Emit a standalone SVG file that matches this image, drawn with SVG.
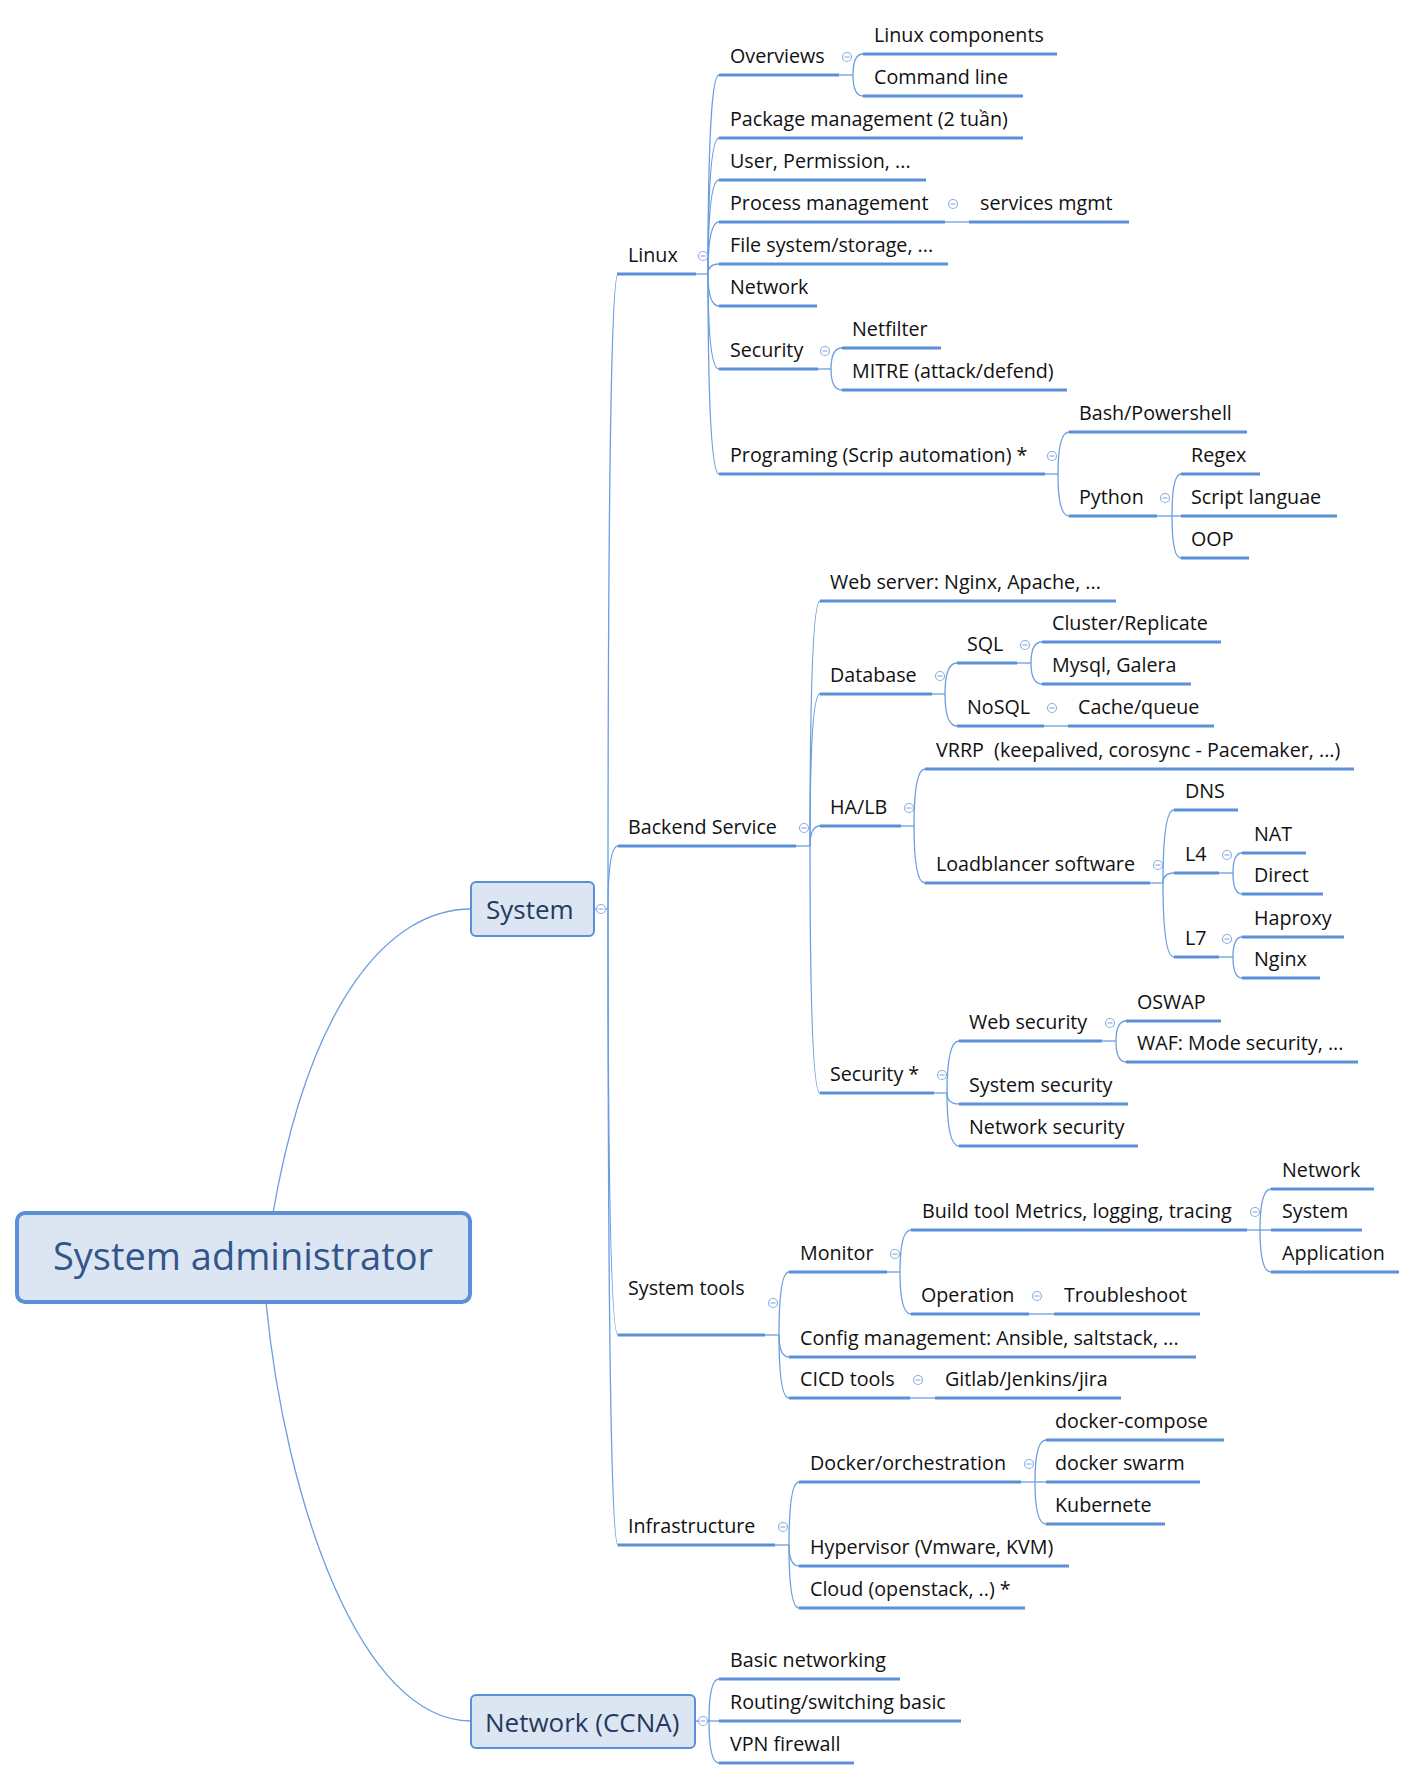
<svg xmlns="http://www.w3.org/2000/svg" width="1417" height="1780" viewBox="0 0 1417 1780">
<style>
.c{fill:none;stroke:#6b9de0;stroke-width:1.3}
.u{fill:none;stroke:#5b8fd7;stroke-width:3.2}
.t{font-family:"Open Sans","Noto Sans","DejaVu Sans",sans-serif;font-size:19.7px;fill:#111}
.box{fill:#dce6f2;stroke:#5b8fd7}
.bt{font-family:"Open Sans","Noto Sans","DejaVu Sans",sans-serif;fill:#253a5e}
.cl circle{fill:#fff;stroke:#8fb1e3;stroke-width:1.2}
.cl path{stroke:#8fb1e3;stroke-width:1.2}
</style>
<defs>
<g id="cl" class="cl"><circle r="4.5"/><path d="M-2.5 0H2.5"/></g>
</defs>
<rect width="1417" height="1780" fill="#fff"/>
<g id="connectors">
<path class="c" d="M471 909C390 909 310 1000 273 1213"/>
<path class="c" d="M266 1302C285 1500 360 1721 471 1721"/>
<path class="c" d="M594 909H608"/>
<path class="c" d="M608 909Q608 274 618 274"/>
<path class="c" d="M608 909Q608 846 618 846"/>
<path class="c" d="M608 909Q608 1335 618 1335"/>
<path class="c" d="M608 909Q608 1545 618 1545"/>
<path class="c" d="M696 274H708"/>
<path class="c" d="M708 274Q708 75 719 75"/>
<path class="c" d="M708 274Q708 138 719 138"/>
<path class="c" d="M708 274Q708 180 719 180"/>
<path class="c" d="M708 274Q708 222 719 222"/>
<path class="c" d="M708 274Q708 264 719 264"/>
<path class="c" d="M708 274Q708 306 719 306"/>
<path class="c" d="M708 274Q708 369 719 369"/>
<path class="c" d="M708 274Q708 474 719 474"/>
<path class="c" d="M839 75H853"/>
<path class="c" d="M853 75Q853 54 863 54"/>
<path class="c" d="M853 75Q853 96 863 96"/>
<path class="c" d="M945 222H969"/>
<path class="c" d="M818 369H831"/>
<path class="c" d="M831 369Q831 348 842 348"/>
<path class="c" d="M831 369Q831 390 842 390"/>
<path class="c" d="M1045 474H1058"/>
<path class="c" d="M1058 474Q1058 432 1069 432"/>
<path class="c" d="M1058 474Q1058 516 1069 516"/>
<path class="c" d="M1157 516H1172"/>
<path class="c" d="M1172 516Q1172 474 1181 474"/>
<path class="c" d="M1172 516H1181"/>
<path class="c" d="M1172 516Q1172 558 1181 558"/>
<path class="c" d="M796 846H810"/>
<path class="c" d="M810 846Q810 601 820 601"/>
<path class="c" d="M810 846Q810 694 820 694"/>
<path class="c" d="M810 846Q810 826 820 826"/>
<path class="c" d="M810 846Q810 1093 820 1093"/>
<path class="c" d="M932 694H945"/>
<path class="c" d="M945 694Q945 663 957 663"/>
<path class="c" d="M945 694Q945 726 957 726"/>
<path class="c" d="M1017 663H1031"/>
<path class="c" d="M1031 663Q1031 642 1042 642"/>
<path class="c" d="M1031 663Q1031 684 1042 684"/>
<path class="c" d="M1044 726H1068"/>
<path class="c" d="M901 826H914"/>
<path class="c" d="M914 826Q914 769 925 769"/>
<path class="c" d="M914 826Q914 883 925 883"/>
<path class="c" d="M1150 883H1163"/>
<path class="c" d="M1163 883Q1163 810 1174 810"/>
<path class="c" d="M1163 883Q1163 873 1174 873"/>
<path class="c" d="M1163 883Q1163 957 1174 957"/>
<path class="c" d="M1219 873H1233"/>
<path class="c" d="M1233 873Q1233 853 1242 853"/>
<path class="c" d="M1233 873Q1233 894 1242 894"/>
<path class="c" d="M1219 957H1233"/>
<path class="c" d="M1233 957Q1233 937 1242 937"/>
<path class="c" d="M1233 957Q1233 978 1242 978"/>
<path class="c" d="M934 1093H947"/>
<path class="c" d="M947 1093Q947 1041 959 1041"/>
<path class="c" d="M947 1093Q947 1104 959 1104"/>
<path class="c" d="M947 1093Q947 1146 959 1146"/>
<path class="c" d="M1102 1041H1116"/>
<path class="c" d="M1116 1041Q1116 1021 1126 1021"/>
<path class="c" d="M1116 1041Q1116 1062 1126 1062"/>
<path class="c" d="M765 1335H779"/>
<path class="c" d="M779 1335Q779 1272 789 1272"/>
<path class="c" d="M779 1335Q779 1357 789 1357"/>
<path class="c" d="M779 1335Q779 1398 789 1398"/>
<path class="c" d="M887 1272H900"/>
<path class="c" d="M900 1272Q900 1230 911 1230"/>
<path class="c" d="M900 1272Q900 1314 911 1314"/>
<path class="c" d="M1247 1230H1260"/>
<path class="c" d="M1260 1230Q1260 1189 1271 1189"/>
<path class="c" d="M1260 1230H1271"/>
<path class="c" d="M1260 1230Q1260 1272 1271 1272"/>
<path class="c" d="M1029 1314H1054"/>
<path class="c" d="M910 1398H935"/>
<path class="c" d="M775 1545H789"/>
<path class="c" d="M789 1545Q789 1482 799 1482"/>
<path class="c" d="M789 1545Q789 1566 799 1566"/>
<path class="c" d="M789 1545Q789 1608 799 1608"/>
<path class="c" d="M1021 1482H1035"/>
<path class="c" d="M1035 1482Q1035 1440 1046 1440"/>
<path class="c" d="M1035 1482H1046"/>
<path class="c" d="M1035 1482Q1035 1524 1046 1524"/>
<path class="c" d="M695 1721H709"/>
<path class="c" d="M709 1721Q709 1679 719 1679"/>
<path class="c" d="M709 1721H719"/>
<path class="c" d="M709 1721Q709 1763 719 1763"/>
</g>
<g id="n-root"><rect class="box" x="17" y="1213" width="453" height="89" rx="8" stroke-width="4"/><text class="bt" x="243" y="1270" font-size="38" text-anchor="middle" fill="#34558c" style="fill:#34558c">System administrator</text></g>
<g id="n-system"><rect class="box" x="471" y="882" width="123" height="54" rx="5" stroke-width="2"/><text class="bt" x="486" y="919" font-size="26">System</text><use href="#cl" x="601" y="909"/></g>
<g id="n-ccna"><rect class="box" x="471" y="1695" width="224" height="53" rx="5" stroke-width="2"/><text class="bt" x="485" y="1732" font-size="26">Network (CCNA)</text><use href="#cl" x="703" y="1721"/></g>
<g id="n-linux"><path class="u" d="M617 274H696"/><text class="t" x="628" y="262">Linux</text><use href="#cl" x="703" y="256"/></g>
<g id="n-overviews"><path class="u" d="M719 75H839"/><text class="t" x="730" y="63">Overviews</text><use href="#cl" x="847" y="57"/></g>
<g id="n-linux-components"><path class="u" d="M863 54H1057"/><text class="t" x="874" y="42">Linux components</text></g>
<g id="n-command-line"><path class="u" d="M863 96H1023"/><text class="t" x="874" y="84">Command line</text></g>
<g id="n-package"><path class="u" d="M719 138H1023"/><text class="t" x="730" y="126">Package management (2 tuần)</text></g>
<g id="n-user"><path class="u" d="M719 180H926"/><text class="t" x="730" y="168">User, Permission, ...</text></g>
<g id="n-process"><path class="u" d="M719 222H945"/><text class="t" x="730" y="210">Process management</text><use href="#cl" x="953" y="204"/></g>
<g id="n-services"><path class="u" d="M969 222H1129"/><text class="t" x="980" y="210">services mgmt</text></g>
<g id="n-filesystem"><path class="u" d="M719 264H948"/><text class="t" x="730" y="252">File system/storage, ...</text></g>
<g id="n-linux-network"><path class="u" d="M719 306H817"/><text class="t" x="730" y="294">Network</text></g>
<g id="n-linux-security"><path class="u" d="M719 369H818"/><text class="t" x="730" y="357">Security</text><use href="#cl" x="825" y="351"/></g>
<g id="n-netfilter"><path class="u" d="M842 348H941"/><text class="t" x="852" y="336">Netfilter</text></g>
<g id="n-mitre"><path class="u" d="M842 390H1067"/><text class="t" x="852" y="378">MITRE (attack/defend)</text></g>
<g id="n-programing"><path class="u" d="M719 474H1045"/><text class="t" x="730" y="462">Programing (Scrip automation) *</text><use href="#cl" x="1052" y="456"/></g>
<g id="n-bash"><path class="u" d="M1069 432H1247"/><text class="t" x="1079" y="420">Bash/Powershell</text></g>
<g id="n-python"><path class="u" d="M1069 516H1157"/><text class="t" x="1079" y="504">Python</text><use href="#cl" x="1165" y="498"/></g>
<g id="n-regex"><path class="u" d="M1181 474H1260"/><text class="t" x="1191" y="462">Regex</text></g>
<g id="n-script"><path class="u" d="M1181 516H1337"/><text class="t" x="1191" y="504">Script languae</text></g>
<g id="n-oop"><path class="u" d="M1181 558H1249"/><text class="t" x="1191" y="546">OOP</text></g>
<g id="n-backend"><path class="u" d="M618 846H796"/><text class="t" x="628" y="834">Backend Service</text><use href="#cl" x="804" y="828"/></g>
<g id="n-webserver"><path class="u" d="M820 601H1116"/><text class="t" x="830" y="589">Web server: Nginx, Apache, ...</text></g>
<g id="n-database"><path class="u" d="M820 694H932"/><text class="t" x="830" y="682">Database</text><use href="#cl" x="940" y="676"/></g>
<g id="n-sql"><path class="u" d="M957 663H1017"/><text class="t" x="967" y="651">SQL</text><use href="#cl" x="1025" y="645"/></g>
<g id="n-cluster"><path class="u" d="M1042 642H1221"/><text class="t" x="1052" y="630">Cluster/Replicate</text></g>
<g id="n-mysql"><path class="u" d="M1042 684H1191"/><text class="t" x="1052" y="672">Mysql, Galera</text></g>
<g id="n-nosql"><path class="u" d="M957 726H1044"/><text class="t" x="967" y="714">NoSQL</text><use href="#cl" x="1052" y="708"/></g>
<g id="n-cache"><path class="u" d="M1068 726H1214"/><text class="t" x="1078" y="714">Cache/queue</text></g>
<g id="n-halb"><path class="u" d="M820 826H901"/><text class="t" x="830" y="814">HA/LB</text><use href="#cl" x="909" y="808"/></g>
<g id="n-vrrp"><path class="u" d="M925 769H1354"/><text class="t" x="936" y="757" style="white-space:pre">VRRP  (keepalived, corosync - Pacemaker, ...)</text></g>
<g id="n-lb"><path class="u" d="M925 883H1150"/><text class="t" x="936" y="871">Loadblancer software</text><use href="#cl" x="1158" y="865"/></g>
<g id="n-dns"><path class="u" d="M1174 810H1238"/><text class="t" x="1185" y="798">DNS</text></g>
<g id="n-l4"><path class="u" d="M1174 873H1219"/><text class="t" x="1185" y="861">L4</text><use href="#cl" x="1227" y="855"/></g>
<g id="n-nat"><path class="u" d="M1242 853H1306"/><text class="t" x="1254" y="841">NAT</text></g>
<g id="n-direct"><path class="u" d="M1242 894H1323"/><text class="t" x="1254" y="882">Direct</text></g>
<g id="n-l7"><path class="u" d="M1174 957H1219"/><text class="t" x="1185" y="945">L7</text><use href="#cl" x="1227" y="939"/></g>
<g id="n-haproxy"><path class="u" d="M1242 937H1344"/><text class="t" x="1254" y="925">Haproxy</text></g>
<g id="n-nginx"><path class="u" d="M1242 978H1320"/><text class="t" x="1254" y="966">Nginx</text></g>
<g id="n-backend-security"><path class="u" d="M820 1093H934"/><text class="t" x="830" y="1081">Security *</text><use href="#cl" x="942" y="1075"/></g>
<g id="n-websec"><path class="u" d="M959 1041H1102"/><text class="t" x="969" y="1029">Web security</text><use href="#cl" x="1110" y="1023"/></g>
<g id="n-oswap"><path class="u" d="M1126 1021H1221"/><text class="t" x="1137" y="1009">OSWAP</text></g>
<g id="n-waf"><path class="u" d="M1126 1062H1358"/><text class="t" x="1137" y="1050">WAF: Mode security, ...</text></g>
<g id="n-syssec"><path class="u" d="M959 1104H1128"/><text class="t" x="969" y="1092">System security</text></g>
<g id="n-netsec"><path class="u" d="M959 1146H1138"/><text class="t" x="969" y="1134">Network security</text></g>
<g id="n-systools"><path class="u" d="M618 1335H765"/><text class="t" x="628" y="1295">System tools</text><use href="#cl" x="773" y="1303"/></g>
<g id="n-monitor"><path class="u" d="M789 1272H887"/><text class="t" x="800" y="1260">Monitor</text><use href="#cl" x="895" y="1254"/></g>
<g id="n-buildtool"><path class="u" d="M911 1230H1247"/><text class="t" x="922" y="1218">Build tool Metrics, logging, tracing</text><use href="#cl" x="1255" y="1212"/></g>
<g id="n-mon-network"><path class="u" d="M1271 1189H1374"/><text class="t" x="1282" y="1177">Network</text></g>
<g id="n-mon-system"><path class="u" d="M1271 1230H1362"/><text class="t" x="1282" y="1218">System</text></g>
<g id="n-mon-app"><path class="u" d="M1271 1272H1399"/><text class="t" x="1282" y="1260">Application</text></g>
<g id="n-operation"><path class="u" d="M911 1314H1029"/><text class="t" x="921" y="1302">Operation</text><use href="#cl" x="1037" y="1296"/></g>
<g id="n-troubleshoot"><path class="u" d="M1054 1314H1200"/><text class="t" x="1064" y="1302">Troubleshoot</text></g>
<g id="n-config"><path class="u" d="M789 1357H1196"/><text class="t" x="800" y="1345">Config management: Ansible, saltstack, ...</text></g>
<g id="n-cicd"><path class="u" d="M789 1398H910"/><text class="t" x="800" y="1386">CICD tools</text><use href="#cl" x="918" y="1380"/></g>
<g id="n-gitlab"><path class="u" d="M935 1398H1121"/><text class="t" x="945" y="1386">Gitlab/Jenkins/jira</text></g>
<g id="n-infra"><path class="u" d="M618 1545H775"/><text class="t" x="628" y="1533">Infrastructure</text><use href="#cl" x="783" y="1527"/></g>
<g id="n-docker"><path class="u" d="M799 1482H1021"/><text class="t" x="810" y="1470">Docker/orchestration</text><use href="#cl" x="1029" y="1464"/></g>
<g id="n-compose"><path class="u" d="M1046 1440H1224"/><text class="t" x="1055" y="1428">docker-compose</text></g>
<g id="n-swarm"><path class="u" d="M1046 1482H1200"/><text class="t" x="1055" y="1470">docker swarm</text></g>
<g id="n-kube"><path class="u" d="M1046 1524H1165"/><text class="t" x="1055" y="1512">Kubernete</text></g>
<g id="n-hypervisor"><path class="u" d="M799 1566H1069"/><text class="t" x="810" y="1554">Hypervisor (Vmware, KVM)</text></g>
<g id="n-cloud"><path class="u" d="M799 1608H1025"/><text class="t" x="810" y="1596">Cloud (openstack, ..) *</text></g>
<g id="n-basic"><path class="u" d="M719 1679H900"/><text class="t" x="730" y="1667">Basic networking</text></g>
<g id="n-routing"><path class="u" d="M719 1721H961"/><text class="t" x="730" y="1709">Routing/switching basic</text></g>
<g id="n-vpn"><path class="u" d="M719 1763H854"/><text class="t" x="730" y="1751">VPN firewall</text></g>
</svg>
